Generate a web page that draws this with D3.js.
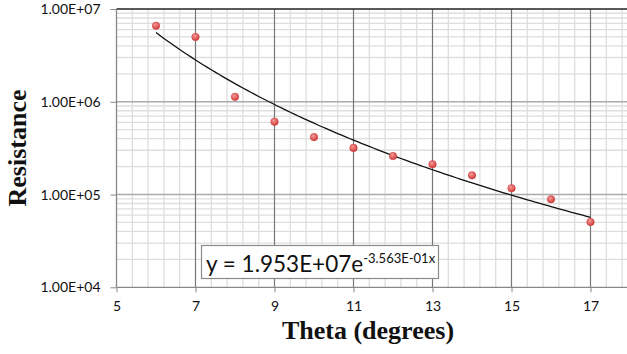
<!DOCTYPE html>
<html><head><meta charset="utf-8">
<script src="https://cdn.jsdelivr.net/npm/d3@7"></script>
<style>body{margin:0;background:#fff}svg{display:block}</style>
</head><body><svg id="c" width="627" height="354"></svg>
<script>
const thetaValues = [6,7,8,9,10,11,12,13,14,15,16,17];
const resistanceValues = [6.6e6,5.0e6,1.13e6,6.1e5,4.16e5,3.18e5,2.6e5,2.12e5,1.61e5,1.17e5,8.9e4,5.06e4];
const xTickLabels = [5,7,9,11,13,15,17];
const yTickValues = [1e4,1e5,1e6,1e7];
const yTickLabels = ["1.00E+04","1.00E+05","1.00E+06","1.00E+07"];
const equationMain = "y = 1.953E+07e";
const equationExp = "-3.563E-01x";

const svg = d3.select("#c");
const x = d3.scaleLinear().domain([5,18]).range([116.5,630]);
const y = d3.scaleLog().domain([1e4,1e7]).range([287.3,9]);
const W=627;

const defs = svg.append("defs");
const g = defs.append("radialGradient").attr("id","pt").attr("cx","40%").attr("cy","35%").attr("r","65%");
g.append("stop").attr("offset","0%").attr("stop-color","#f59a98");
g.append("stop").attr("offset","100%").attr("stop-color","#d13a38");
defs.append("clipPath").attr("id","clip").append("rect").attr("x",116).attr("y",0).attr("width",W-116).attr("height",300);

const grid = svg.append("g").attr("clip-path","url(#clip)");
const minorX = d3.range(5,18.01,0.4).filter(v=>Math.abs((v-5)/2-Math.round((v-5)/2))>1e-6);
grid.selectAll(".mvx").data(minorX).enter().append("line")
  .attr("x1",d=>x(d)).attr("x2",d=>x(d)).attr("y1",y(1e7)).attr("y2",y(1e4))
  .attr("stroke","#dedede").attr("stroke-width",1.3);
const minorY=[];
[1e4,1e5,1e6].forEach(dec=>{for(let k=2;k<=9;k++)minorY.push(dec*k);});
grid.selectAll(".mhy").data(minorY).enter().append("line")
  .attr("x1",x(5)).attr("x2",W).attr("y1",d=>y(d)).attr("y2",d=>y(d))
  .attr("stroke","#dedede").attr("stroke-width",1.3);
grid.selectAll(".Mhy").data([1e5,1e6]).enter().append("line")
  .attr("x1",x(5)).attr("x2",W).attr("y1",d=>y(d)).attr("y2",d=>y(d))
  .attr("stroke","#ababab").attr("stroke-width",1.5);
grid.selectAll(".Mvx").data([7,9,11,13,15,17]).enter().append("line")
  .attr("x1",d=>x(d)).attr("x2",d=>x(d)).attr("y1",y(1e7)).attr("y2",y(1e4))
  .attr("stroke","#777").attr("stroke-width",1.2);
svg.append("line").attr("x1",x(5)).attr("x2",W).attr("y1",y(1e7)).attr("y2",y(1e7)).attr("stroke","#222").attr("stroke-width",1.3);

const xAxis = d3.axisBottom(x).tickValues(xTickLabels).tickSize(5).tickFormat(d3.format("d"));
const xa = svg.append("g").attr("transform",`translate(0,${y(1e4)})`).call(xAxis);
xa.select(".domain").attr("stroke","#888").attr("stroke-width",1.3).attr("d",`M${x(5)},0H${W}`);
xa.selectAll(".tick line").attr("stroke","#888");
xa.selectAll("text").attr("font-family","Lato, 'Open Sans', sans-serif").attr("font-size",14).attr("fill","#111").attr("dy","1.15em");

const yAxis = d3.axisLeft(y).tickValues(yTickValues).tickSize(6).tickFormat((d,i)=>yTickLabels[i]);
const ya = svg.append("g").attr("transform",`translate(${x(5)},0)`).call(yAxis);
ya.select(".domain").attr("stroke","#888").attr("stroke-width",1.3).attr("d",`M0,${y(1e7)}V${y(1e4)}`);
ya.selectAll(".tick line").attr("stroke","#888");
ya.selectAll("text").attr("font-family","Lato, 'Open Sans', sans-serif").attr("font-size",14).attr("fill","#111").attr("x",-16);

// trendline: power-law least squares fit of data
const lx = thetaValues.map(Math.log), ly = resistanceValues.map(Math.log);
const mx=d3.mean(lx), my=d3.mean(ly);
const b = d3.sum(lx.map((v,i)=>(v-mx)*(ly[i]-my)))/d3.sum(lx.map(v=>(v-mx)*(v-mx)));
const a = my - b*mx;
const trend = d3.range(6,17.001,0.1).map(t=>[t,Math.exp(a+b*Math.log(t))]);
svg.append("path").datum(trend)
  .attr("d",d3.line().x(d=>x(d[0])).y(d=>y(d[1])))
  .attr("fill","none").attr("stroke","#111").attr("stroke-width",1.3);

svg.selectAll(".pt").data(thetaValues).enter().append("circle")
  .attr("cx",d=>x(d)).attr("cy",(d,i)=>y(resistanceValues[i])).attr("r",3.8)
  .attr("fill","url(#pt)").attr("stroke","#c03030").attr("stroke-width",0.4);

svg.append("rect").attr("x",201.5).attr("y",245.5).attr("width",237).attr("height",33)
  .attr("fill","#fff").attr("stroke","#8a8a8a").attr("stroke-width",1.2);
const eq = svg.append("text").attr("x",206).attr("y",272).attr("font-family","Lato, 'Open Sans', sans-serif").attr("font-size",22.5).attr("fill","#111");
eq.append("tspan").text(equationMain);
eq.append("tspan").attr("font-size",13).attr("dy",-9).text(equationExp);

svg.append("text").attr("x",368).attr("y",339).attr("text-anchor","middle")
  .attr("font-family","'Liberation Serif', 'DejaVu Serif', serif").attr("font-weight","bold").attr("font-size",26).attr("fill","#111")
  .text("Theta (degrees)");
svg.append("text").attr("transform","translate(26,148) rotate(-90)").attr("text-anchor","middle")
  .attr("font-family","'Liberation Serif', 'DejaVu Serif', serif").attr("font-weight","bold").attr("font-size",26).attr("fill","#111")
  .text("Resistance");
</script></body></html>
